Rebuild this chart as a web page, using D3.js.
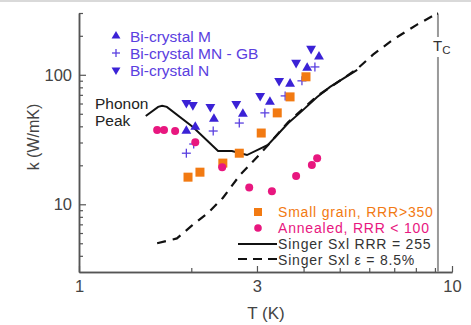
<!DOCTYPE html>
<html>
<head>
<meta charset="utf-8">
<script src="https://cdn.jsdelivr.net/npm/d3@7"></script>
<style>
  body { margin: 0; background: #fff; }
  svg { display: block; }
</style>
</head>
<body>
<svg id="chart"></svg>
<script>
// Data: [T (K), k (W/mK)]
const biCrystalM = [[1.94, 36.8], [2.05, 39.5], [2.30, 45.6], [2.75, 49.8], [3.25, 61.7], [3.68, 85.2], [4.09, 113], [4.40, 138]];
const biCrystalMNGB = [[1.94, 24.8], [2.03, 29.2], [2.29, 36.8], [2.69, 42.4], [3.15, 50.8], [3.57, 68.7], [3.96, 89.8], [4.29, 115]];
const biCrystalN = [[1.94, 60.7], [2.02, 58.5], [2.25, 56.5], [2.64, 59.6], [3.06, 68.7], [3.44, 89.8], [3.82, 124], [4.19, 159]];
const smallGrain = [[1.96, 16.2], [2.11, 17.7], [2.43, 20.8], [2.69, 24.8], [3.08, 35.5], [3.40, 50.8], [3.68, 67.5], [4.06, 96.5]];
const annealed = [[1.62, 37.5], [1.69, 37.5], [1.81, 36.8], [2.05, 30.2], [2.42, 19.3], [2.86, 13.5], [3.29, 12.6], [3.82, 16.5], [4.21, 20.1], [4.35, 22.7]];
const singerRRR = [[1.51, 48.1], [1.63, 56.5], [1.67, 57.6], [1.72, 56.5], [2.02, 39.5], [2.36, 25.8], [2.57, 25.8], [2.82, 24.0], [3.21, 28.7], [3.64, 42.4], [3.91, 50.8], [4.35, 67.5], [4.71, 80.7], [5.57, 109]];
const singerStrain = [[1.62, 5.0], [1.83, 5.45], [2.01, 6.87], [2.22, 8.6], [2.43, 11.2], [2.70, 16.8], [3.00, 23.1], [3.25, 29.7], [3.64, 43.2], [4.35, 68.5], [5.57, 111], [6.14, 143], [6.95, 187], [8.06, 244], [9.12, 297]];
const tc = 9.17;

const xTickLabels = [1, 3, 10];
const xMinorTicks = [2, 4, 5, 6, 7, 8, 9];
const yTickLabels = [10, 100];
const yMinorTicks = [4, 5, 6, 7, 8, 9, 20, 30, 40, 50, 60, 70, 80, 90, 200, 300];

const width = 471, height = 325;
const axisColor = "#555";
const textColor = "#444";
const blue = "#3b22d6", blueText = "#5a40e0";
const orange = "#f27a12", magenta = "#e8177f";
const font = "Liberation Sans, Arial, sans-serif";
const noteSize = 15.5;

const svg = d3.select("#chart")
    .attr("width", width)
    .attr("height", height)
    .attr("font-family", font);

// light frame strip at the top of the picture
svg.append("rect").attr("x", 0).attr("y", 0).attr("width", width).attr("height", 2).attr("fill", "#d9d9d9");

const x = d3.scaleLog().domain([1, 10]).range([79, 452]);
const y = d3.scaleLog().domain([3, 300]).range([272, 13]);

// Axes, ticks pointing inward
function styleAxis(g) {
    g.select(".domain").attr("stroke", axisColor).attr("stroke-width", 1.5);
    g.selectAll(".tick line").attr("stroke", axisColor).attr("stroke-width", 1.2);
    g.selectAll(".tick text").attr("fill", textColor).attr("font-size", 16.5).attr("font-family", font);
}

svg.append("g")
    .attr("transform", `translate(0, ${y.range()[0]})`)
    .call(d3.axisBottom(x).tickValues(xMinorTicks).tickSize(-4).tickFormat("").tickSizeOuter(0))
    .call(styleAxis);
svg.append("g")
    .attr("transform", `translate(0, ${y.range()[0]})`)
    .call(d3.axisBottom(x).tickValues(xTickLabels).tickSize(-6).tickPadding(8).tickFormat(d3.format("d")).tickSizeOuter(0))
    .call(styleAxis);

svg.append("g")
    .attr("transform", `translate(${x.range()[0]}, 0)`)
    .call(d3.axisLeft(y).tickValues(yMinorTicks).tickSize(-4).tickFormat("").tickSizeOuter(0))
    .call(styleAxis);
svg.append("g")
    .attr("transform", `translate(${x.range()[0]}, 0)`)
    .call(d3.axisLeft(y).tickValues(yTickLabels).tickSize(-7).tickPadding(7).tickFormat(d3.format("d")).tickSizeOuter(0))
    .call(styleAxis);

// Axis labels
svg.append("text")
    .attr("x", 266).attr("y", 319)
    .attr("text-anchor", "middle")
    .attr("fill", textColor).attr("font-size", 17)
    .text("T (K)");
svg.append("text")
    .attr("transform", "translate(39, 137) rotate(-90)")
    .attr("text-anchor", "middle")
    .attr("fill", textColor).attr("font-size", 16)
    .text("k (W/mK)");

// Tc marker line, broken behind its label
svg.append("line")
    .attr("x1", x(tc)).attr("x2", x(tc))
    .attr("y1", y(297)).attr("y2", y.range()[0])
    .attr("stroke", "#9a9a9a").attr("stroke-width", 2);
svg.append("rect")
    .attr("x", x(tc) - 6).attr("y", 37).attr("width", 15).attr("height", 20)
    .attr("fill", "#fff");
const tcLabel = svg.append("text")
    .attr("x", x(tc) - 5).attr("y", 51)
    .attr("fill", "#333").attr("font-size", 15);
tcLabel.append("tspan").text("T");
tcLabel.append("tspan").attr("font-size", 11.5).attr("dy", 3).text("C");

// Singer curves
const line = d3.line().x(d => x(d[0])).y(d => y(d[1]));
svg.append("path")
    .datum(singerStrain)
    .attr("d", line)
    .attr("fill", "none").attr("stroke", "#111").attr("stroke-width", 2.2)
    .attr("stroke-dasharray", "9,7");
svg.append("path")
    .datum([[singerStrain[singerStrain.length - 1][0], 297], [tc, 297]])
    .attr("d", line)
    .attr("fill", "none").attr("stroke", "#111").attr("stroke-width", 2.2);
svg.append("path")
    .datum(singerRRR)
    .attr("d", line)
    .attr("fill", "none").attr("stroke", "#111").attr("stroke-width", 2);

// Markers
const triUp = d3.symbol().type(d3.symbolTriangle).size(42);

svg.append("g").selectAll("path")
    .data(biCrystalN).join("path")
    .attr("transform", d => `translate(${x(d[0])}, ${y(d[1])}) rotate(180)`)
    .attr("d", triUp).attr("fill", blue);

svg.append("g").selectAll("path")
    .data(biCrystalM).join("path")
    .attr("transform", d => `translate(${x(d[0])}, ${y(d[1])})`)
    .attr("d", triUp).attr("fill", blue);

function plus(g, s) {
    g.append("line").attr("x1", -s).attr("x2", s).attr("y1", 0).attr("y2", 0);
    g.append("line").attr("x1", 0).attr("x2", 0).attr("y1", -s).attr("y2", s);
}
svg.append("g").selectAll("g")
    .data(biCrystalMNGB).join("g")
    .attr("transform", d => `translate(${x(d[0])}, ${y(d[1])})`)
    .attr("stroke", blueText).attr("stroke-width", 1.3)
    .each(function() { plus(d3.select(this), 4.5); });

svg.append("g").selectAll("rect")
    .data(smallGrain).join("rect")
    .attr("x", d => x(d[0]) - 4.5).attr("y", d => y(d[1]) - 4.5)
    .attr("width", 9).attr("height", 9)
    .attr("fill", orange);

svg.append("g").selectAll("circle")
    .data(annealed).join("circle")
    .attr("cx", d => x(d[0])).attr("cy", d => y(d[1]))
    .attr("r", 4)
    .attr("fill", magenta);

// Text notes
svg.append("text").attr("x", 95).attr("y", 109).attr("fill", "#222").attr("font-size", noteSize).text("Phonon");
svg.append("text").attr("x", 95).attr("y", 126).attr("fill", "#222").attr("font-size", noteSize).text("Peak");

// Top legend
const topLegend = [
    { label: "Bi-crystal M", y: 36, kind: "up" },
    { label: "Bi-crystal MN - GB", y: 53, kind: "plus" },
    { label: "Bi-crystal N", y: 70, kind: "down" }
];
topLegend.forEach(d => {
    const g = svg.append("g").attr("transform", `translate(116, ${d.y})`);
    if (d.kind === "plus") {
        g.attr("stroke", blueText).attr("stroke-width", 1.3);
        plus(g, 4);
    } else {
        g.append("path")
            .attr("transform", d.kind === "down" ? "rotate(180)" : null)
            .attr("d", d3.symbol().type(d3.symbolTriangle).size(34))
            .attr("fill", blue);
    }
    svg.append("text")
        .attr("x", 130).attr("y", d.y + 5.5)
        .attr("fill", blueText).attr("font-size", noteSize)
        .text(d.label);
});

// Bottom legend (rows sit tight, so a smaller face with a little tracking)
const legendSize = 14, legendTrack = 0.8;
function legendText(yPos, color, label) {
    svg.append("text")
        .attr("x", 278).attr("y", yPos)
        .attr("fill", color).attr("font-size", legendSize)
        .attr("letter-spacing", legendTrack)
        .text(label);
}
svg.append("rect").attr("x", 254).attr("y", 208).attr("width", 8).attr("height", 8).attr("fill", orange);
legendText(217, orange, "Small grain, RRR>350");
svg.append("circle").attr("cx", 258).attr("cy", 228).attr("r", 3.8).attr("fill", magenta);
legendText(233, magenta, "Annealed, RRR < 100");
svg.append("line").attr("x1", 238).attr("x2", 277).attr("y1", 244).attr("y2", 244)
    .attr("stroke", "#111").attr("stroke-width", 2);
legendText(249, "#333", "Singer Sxl RRR = 255");
svg.append("line").attr("x1", 238).attr("x2", 277).attr("y1", 259).attr("y2", 259)
    .attr("stroke", "#111").attr("stroke-width", 2).attr("stroke-dasharray", "9,6");
legendText(264.5, "#333", "Singer Sxl ε = 8.5%");
</script>
</body>
</html>
